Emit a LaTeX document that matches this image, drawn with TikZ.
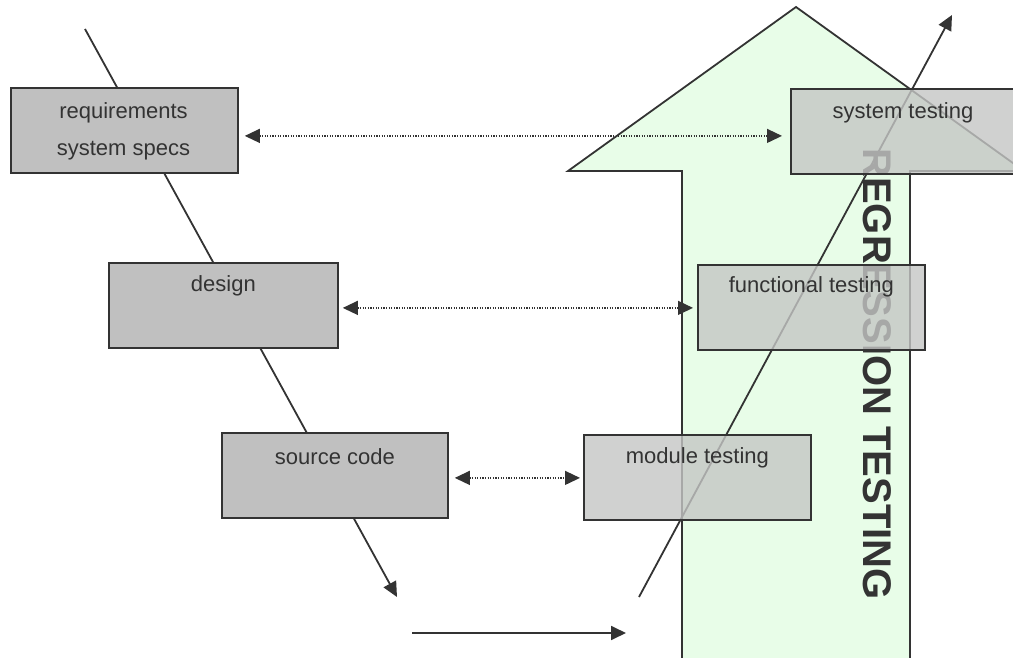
\documentclass[tikz,border=0pt]{standalone}
\usepackage{fontspec}
\setmainfont{Liberation Sans}
\usetikzlibrary{arrows.meta}
\definecolor{ink}{RGB}{51,51,51}
\definecolor{boxgray}{RGB}{192,192,192}
\definecolor{testgray}{RGB}{196,198,196}
\definecolor{mint}{RGB}{232,253,232}
\tikzset{
  lbox/.style={draw=ink, line width=1.8pt, fill=boxgray, rectangle,
    minimum width=#1, minimum height=85pt, inner sep=0pt, anchor=north west},
  tbox/.style={draw=ink, line width=1.8pt, fill=testgray, fill opacity=0.8,
    rectangle, minimum width=#1, minimum height=85pt, inner sep=0pt, anchor=north west},
  lbl/.style={text=ink, font=\fontsize{22}{37}\selectfont, align=center, inner sep=0pt},
  flow/.style={draw=ink, line width=1.8pt, -{Triangle[length=15pt,width=14pt]}},
  link/.style={draw=ink, line width=1.3pt, dash pattern=on 1.2pt off 1.4pt,
    {Triangle[length=15pt,width=14pt]}-{Triangle[length=15pt,width=14pt]}},
}
\begin{document}
\begin{tikzpicture}[x=1pt, y=-1pt]
\useasboundingbox (0,0) rectangle (1013,658);
\clip (0,0) rectangle (1013,658);

% big upward arrow behind the test column
\draw[draw=ink, line width=1.8pt, fill=mint]
  (682,670) -- (682,171) -- (568,171) -- (796,7) -- (1024,171)
  -- (910,171) -- (910,670);
\node[text=ink, font=\bfseries\fontsize{40}{40}\selectfont, rotate=-90, inner sep=0pt]
  (regr) at (877,374) {REGRESSION TESTING};

% development path down the left side
\coordinate (vstart) at (85,29);
\coordinate (vend) at (397,597);
\draw[flow] (vstart) -- (vend);

\node[lbox=227pt] (req) at (10,87) {};
\node[lbl] (reqt) at (123.5,131.5) {requirements\\system specs};
\node[lbox=229pt] (des) at (108,262) {};
\node[lbl] (dest) at ([yshift=-24pt]des.north) {design};
\node[lbox=226pt] (src) at (221,432) {};
\node[lbl] (srct) at ([yshift=-25pt]src.north) {source code};

% bottom handover arrow
\coordinate (hstart) at (412,633);
\coordinate (hend) at (626,633);
\draw[flow] (hstart) -- (hend);

% testing path up the right side
\coordinate (ustart) at (639,597);
\coordinate (uend) at (952,15);
\draw[flow] (ustart) -- (uend);

\node[tbox=227pt] (mod) at (583,434) {};
\node[lbl] (modt) at ([yshift=-24pt]mod.north) {module testing};
\node[tbox=227pt] (fun) at (697,264) {};
\node[lbl] (funt) at ([yshift=-23pt]fun.north) {functional testing};
\node[tbox=260pt] (sys) at (790,88) {};
\node[lbl] (syst) at (903,113) {system testing};

% correspondences between phases
\coordinate (l1) at ([yshift=-5.5pt]req.east);
\coordinate (l2) at ([yshift=-2.5pt]des.east);
\coordinate (l3) at ([yshift=-2.5pt]src.east);
\draw[link, shorten <=6pt, shorten >=8pt] (l1) -- (sys.west |- l1);
\draw[link, shorten <=4pt, shorten >=4pt] (l2) -- (fun.west |- l2);
\draw[link, shorten <=6pt, shorten >=3pt] (l3) -- (mod.west |- l3);
\end{tikzpicture}
\end{document}
